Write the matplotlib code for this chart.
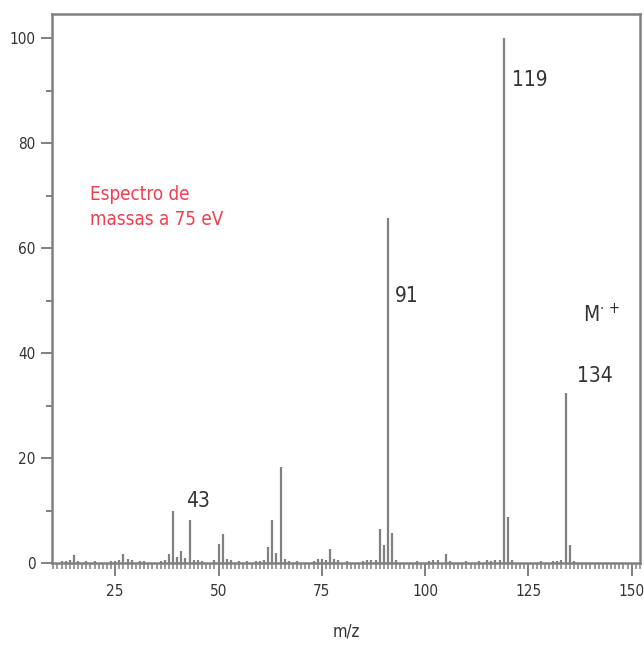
import matplotlib
matplotlib.use("Agg")
import matplotlib.pyplot as plt
from matplotlib.ticker import MultipleLocator

plt.rcParams['font.family'] = ['Liberation Sans Narrow', 'DejaVu Sans']
plt.rcParams['font.stretch'] = 'condensed'

# Mass spectrum (m/z, relative intensity %)
mz = [12, 13, 14, 15, 16, 18, 20, 24, 25, 26, 27, 28, 29, 31, 32, 36, 37, 38,
      39, 40, 41, 42, 43, 44, 45, 46, 49, 50, 51, 52, 53, 55, 57, 59, 60,
      61, 62, 63, 64, 65, 66, 67, 69, 73, 74, 75, 76, 77, 78, 79, 81, 85, 86,
      87, 88, 89, 90, 91, 92, 93, 98, 101, 102, 103, 105, 106, 110, 113, 115,
      116, 117, 118, 119, 120, 121, 128, 131, 132, 133, 134, 135, 136]
intensity = [0.3, 0.4, 0.6, 1.5, 0.4, 0.3, 0.3, 0.3, 0.4, 0.6, 1.8, 0.8, 0.5,
             0.3, 0.3, 0.3, 0.6, 1.8, 10.0, 1.1, 2.3, 1.0, 8.1, 0.6, 0.5, 0.3,
             0.5, 3.7, 5.6, 0.8, 0.6, 0.3, 0.3, 0.3, 0.3, 0.6, 3.1, 8.1, 2.0,
             18.3, 0.8, 0.3, 0.3, 0.4, 0.8, 0.7, 0.5, 2.6, 0.7, 0.6, 0.3, 0.3,
             0.5, 0.6, 0.5, 6.4, 3.4, 65.7, 5.8, 0.5, 0.3, 0.4, 0.6, 0.6, 1.7,
             0.3, 0.3, 0.3, 0.5, 0.4, 0.5, 0.6, 100.0, 8.8, 0.6, 0.3, 0.3, 0.4,
             0.5, 32.4, 3.4, 0.3]

peak_labels = ["43", "91", "119", "134"]
peak_label_mz = [43, 91, 119, 134]

x_ticks = [25, 50, 75, 100, 125, 150]
y_ticks = [0, 20, 40, 60, 80, 100]

gray = "#808080"
text_col = "#333333"

fig = plt.figure(figsize=(6.44, 6.46), dpi=100)
ax = fig.add_axes([52 / 644, 83 / 646, 588 / 644, 549 / 646])

ax.vlines(mz, 0, intensity, colors=gray, linewidth=1.6)

ax.set_xlim(9.7, 152.0)
ax.set_ylim(0, 104.6)

ax.set_xticks(x_ticks)
ax.xaxis.set_minor_locator(MultipleLocator(1))
ax.set_yticks(y_ticks)
ax.yaxis.set_minor_locator(MultipleLocator(10))

ax.tick_params(axis='x', which='major', direction='out', length=9, width=1.4,
               color=gray, labelsize=11, labelcolor=text_col, pad=6)
ax.tick_params(axis='x', which='minor', direction='out', length=4, width=1.1,
               color=gray)
ax.tick_params(axis='y', which='major', direction='out', length=8, width=1.4,
               color=gray, labelsize=11, labelcolor=text_col, pad=4)
ax.tick_params(axis='y', which='minor', direction='out', length=4, width=1.4,
               color=gray)

for side in ax.spines.values():
    side.set_color(gray)
    side.set_linewidth(1.8)

ax.set_xlabel("m/z", fontsize=12, color=text_col, labelpad=17)

# Peak annotations: (m/z of left edge, baseline height)
label_pos = {43: (42.2, 10.6), 91: (92.7, 49.7), 119: (121.0, 90.9), 134: (136.8, 34.5)}
for lab, m in zip(peak_labels, peak_label_mz):
    x, y = label_pos[m]
    ax.text(x, y, lab, fontsize=15, color=text_col, ha='left', va='baseline')

ax.text(138.2, 45.9, r"M$^{\cdot\,+}$", fontsize=15, color=text_col,
        ha='left', va='baseline')

ax.text(0.065, 0.648, "Espectro de\nmassas a 75 eV", transform=ax.transAxes,
        fontsize=13.5, color="#f0404f", ha='left', va='center', linespacing=1.4)

fig.savefig("out.png", dpi=100)
